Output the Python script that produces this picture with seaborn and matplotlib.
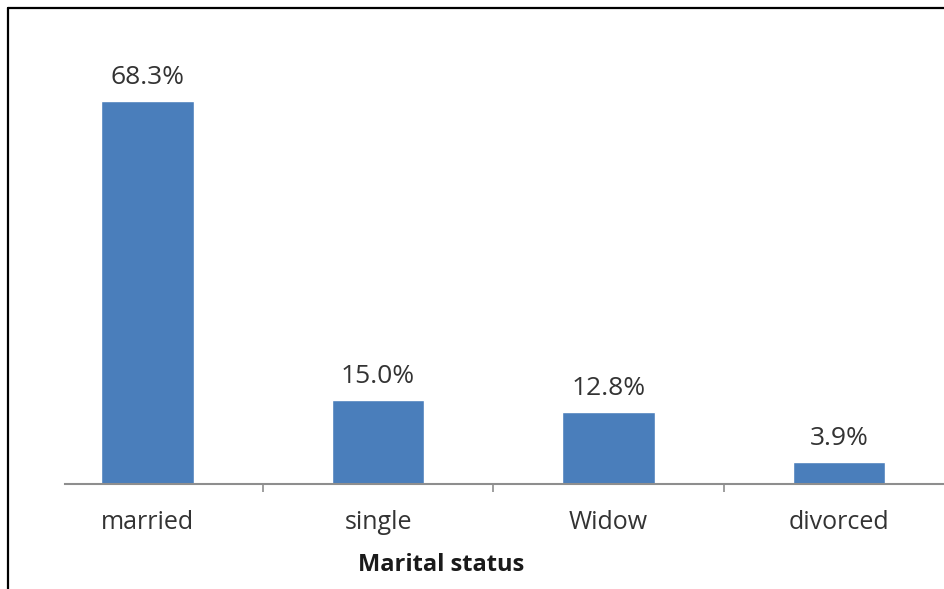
import matplotlib
matplotlib.use("Agg")
import matplotlib.pyplot as plt
from matplotlib.lines import Line2D
import seaborn as sns
import pandas as pd

categories = ["married", "single", "Widow", "divorced"]
percentages = [68.3, 15.0, 12.8, 3.9]
value_labels = ["68.3%", "15.0%", "12.8%", "3.9%"]

sns.set_theme(style="white")
plt.rcParams["font.family"] = ["Open Sans", "DejaVu Sans"]

text_color = "#333333"
bar_color = "#4a7ebb"
axis_color = "#8e8e8e"

df = pd.DataFrame({"status": categories, "pct": percentages})

fig = plt.figure(figsize=(9.45, 5.89), dpi=100)
ax = fig.add_axes([65 / 945, 1 - 484 / 589, 880 / 945, 476 / 589])

sns.barplot(data=df, x="status", y="pct", color=bar_color, width=0.4,
            saturation=1, ax=ax)

ax.set_xlim(-0.358, 3.46)
ax.set_ylim(0, 84.9)

ax.bar_label(ax.containers[0], labels=value_labels, padding=8,
             fontsize=19, color=text_color)

for side in ["left", "right", "top"]:
    ax.spines[side].set_visible(False)
ax.spines["bottom"].set_color(axis_color)
ax.spines["bottom"].set_linewidth(1.5)

ax.set_yticks([])
ax.set_ylabel("")
ax.set_xticks(range(len(categories)))
ax.set_xticklabels(categories, fontsize=18, color=text_color)
ax.tick_params(axis="x", which="major", length=0, pad=19)
ax.set_xticks([0.5, 1.5, 2.5], minor=True)
ax.tick_params(axis="x", which="minor", bottom=True, direction="out",
               length=6, width=1.2, color=axis_color)

ax.set_xlabel("Marital status", fontsize=17, fontweight="bold",
              color="#1a1a1a")
ax.xaxis.set_label_coords((441 - 65) / 880, -0.145)

# frame lines along the left and top edges of the chart area
fig.add_artist(Line2D([8.5 / 945, 8.5 / 945], [0, 1 - 8 / 589],
                      transform=fig.transFigure, color="black", lw=1.6))
fig.add_artist(Line2D([8.5 / 945, 1], [1 - 8 / 589, 1 - 8 / 589],
                      transform=fig.transFigure, color="black", lw=1.6))

fig.savefig("out.png", dpi=100, facecolor="white")
